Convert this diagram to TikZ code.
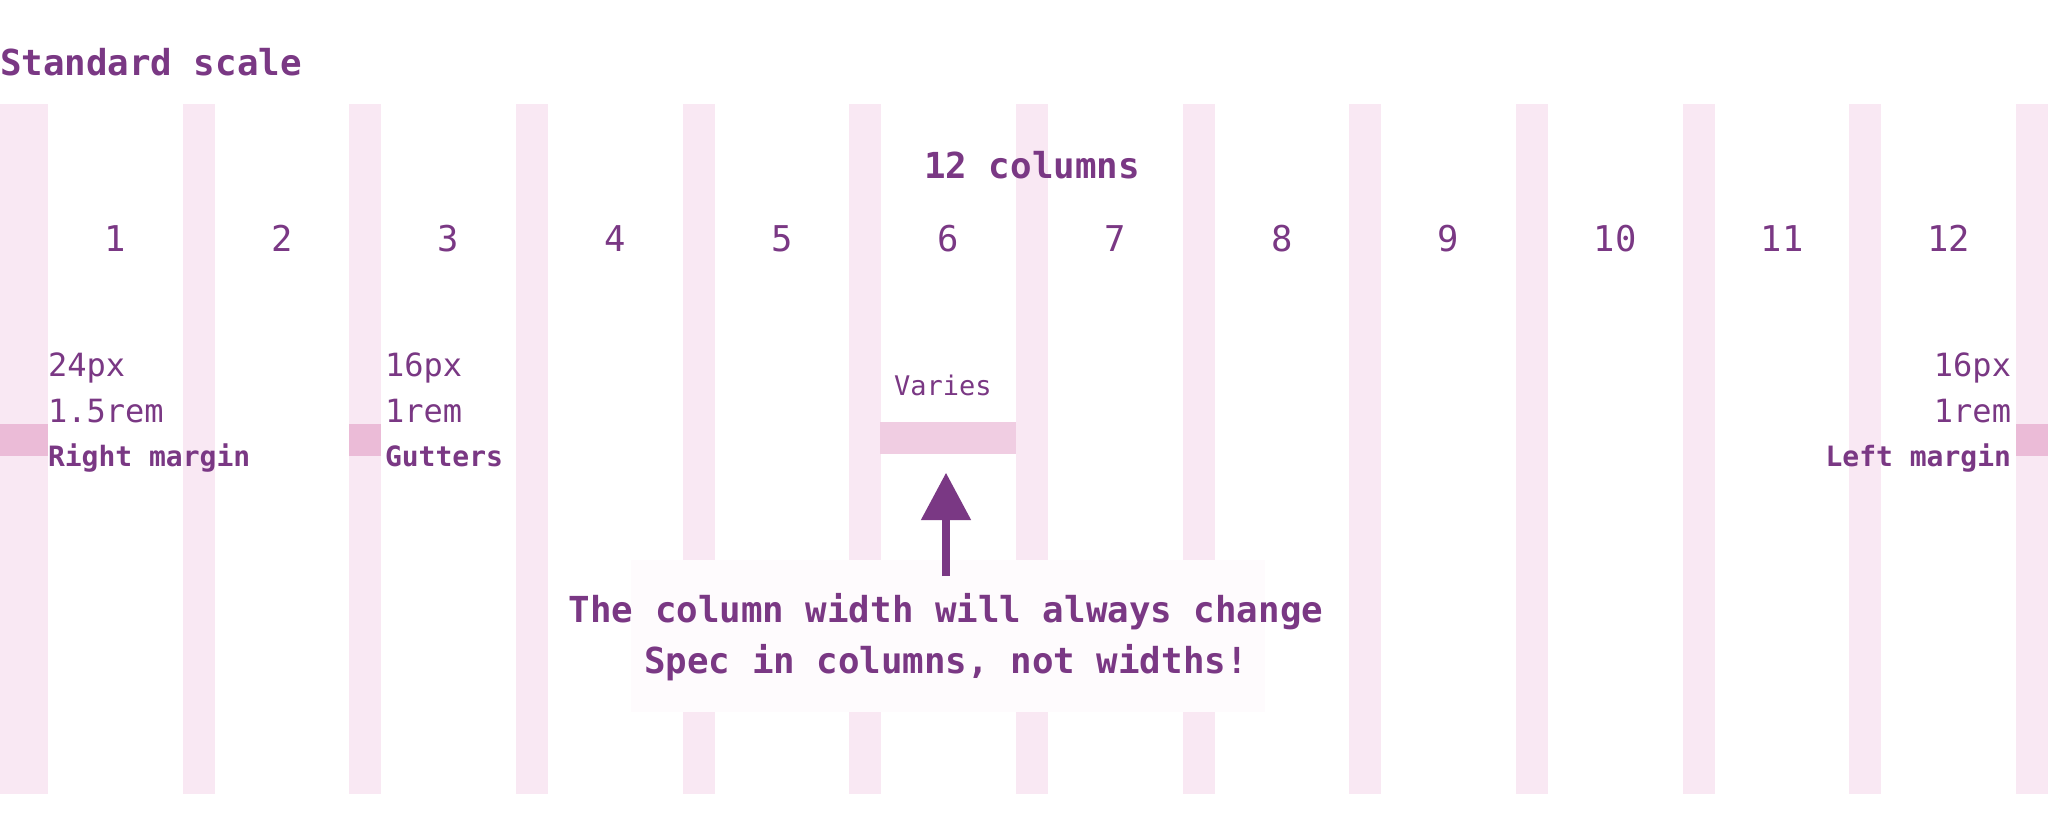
\documentclass[tikz,border=0pt]{standalone}
\usepackage{fontspec}
\setmainfont{DejaVu Sans Mono}
\usetikzlibrary{arrows.meta}
\definecolor{ink}{RGB}{122,56,132}
\definecolor{stripe}{RGB}{249,232,243}
\definecolor{markpink}{RGB}{235,187,215}
\definecolor{barpink}{RGB}{240,205,226}
\definecolor{veil}{RGB}{254,251,253}
\tikzset{
  txt/.style={inner sep=0pt, outer sep=0pt, text=ink, anchor=base west},
  bigtxt/.style={txt, font=\fontsize{35.5}{42}\selectfont},
  bigbold/.style={txt, font=\bfseries\fontsize{35.8}{42}\selectfont},
  midtxt/.style={txt, font=\fontsize{32}{38}\selectfont},
  lbltxt/.style={txt, font=\bfseries\fontsize{28}{34}\selectfont},
  smalltxt/.style={txt, font=\fontsize{27}{32}\selectfont},
  stripebox/.style={fill=stripe, draw=none},
  markbox/.style={fill=markpink, draw=none, inner sep=0pt, outer sep=0pt, anchor=north west, minimum height=32pt},
  bigarrow/.style={draw=ink, line width=8pt, -{Triangle[width=48pt,length=47.3pt]}}
}
\begin{document}
\begin{tikzpicture}[x=1pt,y=-1pt]
\useasboundingbox (0,0) rectangle (2048,834);
\fill[white] (0,0) rectangle (2048,834);
% stripes (margins and gutters)
\fill[stripebox] (0,104) rectangle (48,794);
\foreach \i in {1,...,12}{
  \pgfmathsetmacro{\xl}{16+\i*166.6667}
  \fill[stripebox] (\xl,104) rectangle (\xl+32,794);
}
% title
\node[bigbold] (title) at (0,76) {Standard scale};
\node[bigbold, anchor=base] (cols) at (1032,179) {12 columns};
% column numbers
\foreach \i in {1,...,12}{
  \pgfmathsetmacro{\xc}{115.3333+(\i-1)*166.6667}
  \node[bigtxt, anchor=base] (n\i) at (\xc,252) {\i};
}
% markers
\node[markbox, minimum width=48pt] (mleft) at (0,424) {};
\node[markbox, minimum width=32pt] (mgut) at (349.33,424) {};
\node[markbox, minimum width=32pt] (mright) at (2016,424) {};
% right margin labels
\node[midtxt] (rm1) at (48,376) {24px};
\node[midtxt] (rm2) at (48,422) {1.5rem};
\node[lbltxt] (rm3) at (48,466) {Right margin};
% gutter labels
\node[midtxt] (g1) at (385,376) {16px};
\node[midtxt] (g2) at (385,422) {1rem};
\node[lbltxt] (g3) at (385,466) {Gutters};
% left margin labels
\node[midtxt, anchor=base east] (lm1) at (2011,376) {16px};
\node[midtxt, anchor=base east] (lm2) at (2011,422) {1rem};
\node[lbltxt, anchor=base east] (lm3) at (2011,466) {Left margin};
% varies
\node[smalltxt] (varies) at (894,395) {Varies};
\node[fill=barpink, draw=none, inner sep=0pt, outer sep=0pt, anchor=north west, minimum width=136pt, minimum height=32pt] (bar) at (880,422) {};
% message
\node[fill=veil, draw=none, inner sep=0pt, anchor=north west, minimum width=634pt, minimum height=152pt] (veilbox) at (631,560) {};
\node[bigbold, anchor=base] (msg1) at (946,622) {The column width will always change};
\node[bigbold, anchor=base] (msg2) at (946,673) {Spec in columns, not widths!};
% arrow
\coordinate (foot) at (946,576);
\draw[bigarrow, shorten >=18.7pt] (foot) -- (foot |- bar.south);
\end{tikzpicture}
\end{document}
